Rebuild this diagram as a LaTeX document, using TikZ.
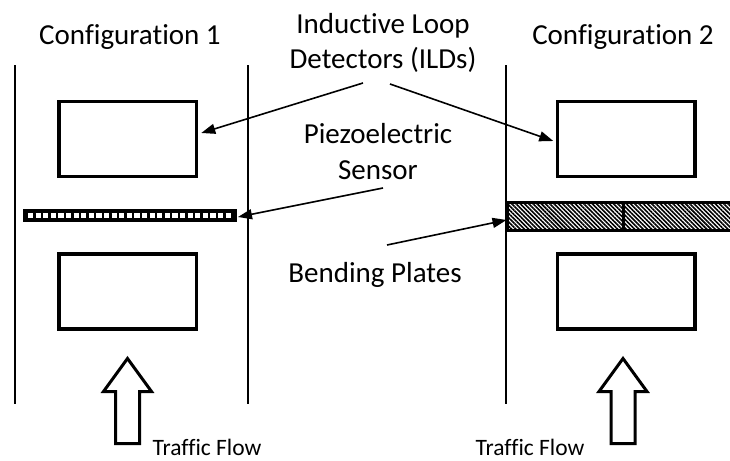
\documentclass[tikz,border=0pt]{standalone}
\usepackage{fontspec}
\setmainfont{Carlito}[Ligatures={NoCommon}]
\usetikzlibrary{arrows.meta,patterns.meta,calc}
\begin{document}
\begin{tikzpicture}[x=1pt,y=-1pt,
  road/.style={line width=1.6pt},
  loopbox/.style={draw,line width=3.5pt,minimum width=137.5pt,minimum height=75pt,inner sep=0pt,outer sep=0pt},
  lbl/.style={font=\fontsize{29}{35.5}\selectfont,align=center,inner sep=0pt},
  smalllbl/.style={font=\fontsize{23.5}{28}\selectfont,inner sep=0pt},
  ptr/.style={line width=1.6pt,-{Triangle[length=14pt,width=10pt]}},
  flow/.style={line width=3pt,line join=miter},
  flowarrow/.pic={\draw[flow] (0,0) -- (24,33) -- (12,33) -- (12,85) -- (-12,85) -- (-12,33) -- (-24,33) -- cycle;}]
\useasboundingbox (0,0) rectangle (730,460);

% road edges
\draw[road] (15,65) -- (15,404);
\draw[road] (248,65) -- (248,404);
\draw[road] (506,65) -- (506,404);

% loop detectors
\node[loopbox] (lt) at (127.5,139) {};
\node[loopbox] (lb) at (127.5,291.5) {};
\node[loopbox] (rt) at (626,139) {};
\node[loopbox] (rb) at (626,291.5) {};

% piezoelectric strip
\node[fill=black,minimum width=214pt,minimum height=13pt,inner sep=0pt,outer sep=0pt] (pz) at (130,215.5) {};
\draw[white,line width=5pt,dash pattern=on 5.2pt off 2.4pt] (28,215.5) -- (233,215.5);

% bending plates
\node[draw,line width=3pt,pattern={Lines[angle=-45,distance=3pt,line width=1.6pt]},minimum width=226pt,minimum height=28.5pt,inner sep=0pt,outer sep=0pt] (bp) at (620.5,216.5) {};
\draw[line width=3pt] (623,202.5) -- (623,230.5);

% labels
\node[lbl,anchor=base] (c1) at (130,45) {Configuration 1};
\node[lbl,anchor=base] (c2) at (623,45) {Configuration 2};
\node[lbl,anchor=base] (ild) at (383,68.5) {Inductive Loop\\Detectors (ILDs)};
\node[lbl,anchor=base] (pzl) at (378,179) {Piezoelectric\\Sensor};
\node[lbl,anchor=base] (bpl) at (375,282) {Bending Plates};
\node[smalllbl,anchor=base] (tf1) at (207,455) {Traffic Flow};
\node[smalllbl,anchor=base] (tf2) at (530,455) {Traffic Flow};

% pointers
\coordinate (t1) at (363,83);
\coordinate (t2) at (390,84);
\coordinate (t3) at (383,188);
\coordinate (t4) at (387,245);
\draw[ptr] (t1) -- ($(lt.east)+(5,-6)$);
\draw[ptr] (t2) -- ($(rt.west)+(-4,2)$);
\draw[ptr] (t3) -- ($(pz.east)+(1,1.5)$);
\draw[ptr] (t4) -- ($(bp.west)+(-1,3.5)$);

% traffic flow arrows
\pic at (127.5,358.5) {flowarrow};
\pic at (623,358.5) {flowarrow};
\end{tikzpicture}
\end{document}
